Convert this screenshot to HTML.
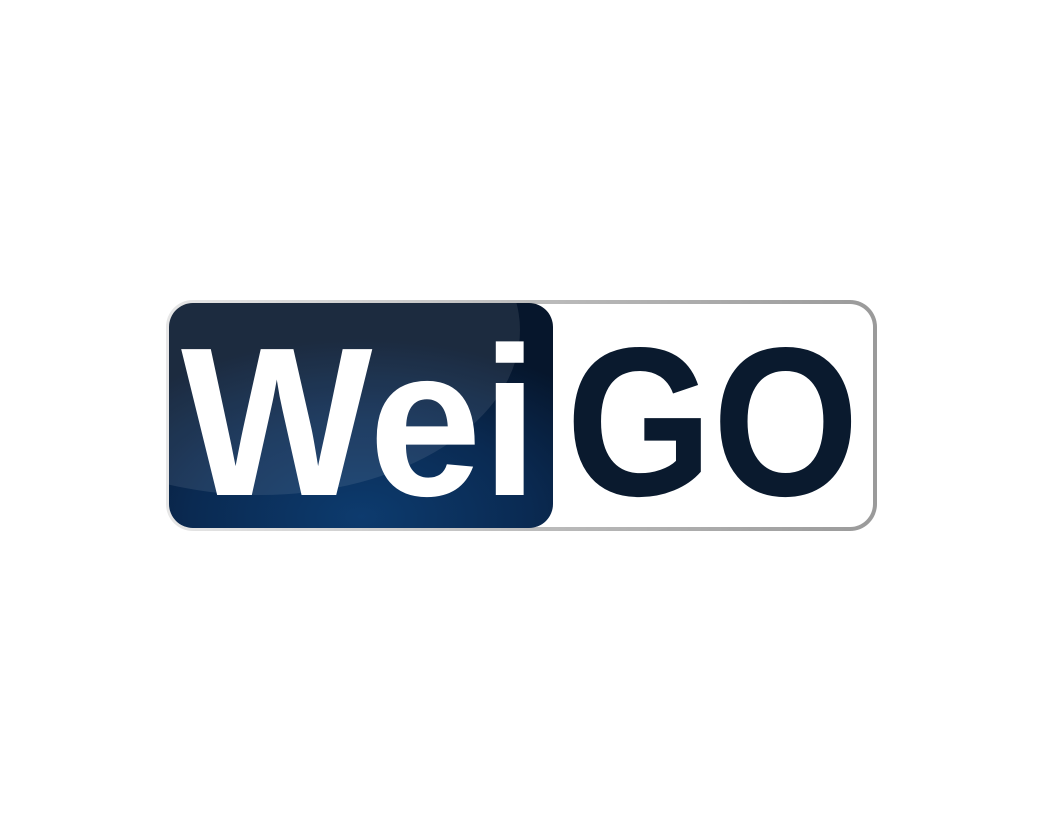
<!DOCTYPE html>
<html><head><meta charset="utf-8"><style>
html,body{margin:0;padding:0;background:#fff;}
svg{display:block;}
</style></head><body>
<svg width="1043" height="834" viewBox="0 0 1043 834">
<defs>
<linearGradient id="silver" x1="0" y1="0" x2="1" y2="0">
<stop offset="0" stop-color="#e6e6e6"/><stop offset="0.5" stop-color="#bdbdbd"/><stop offset="1" stop-color="#9a9a9a"/>
</linearGradient>
<radialGradient id="blue" cx="0.5" cy="0.95" r="0.8">
<stop offset="0" stop-color="#0d3b6e"/><stop offset="0.55" stop-color="#0a2a52"/><stop offset="1" stop-color="#06162c"/>
</radialGradient>
<clipPath id="darkclip"><rect x="169" y="303" width="384" height="225" rx="24"/></clipPath>
</defs>
<rect x="166" y="300" width="711" height="231" rx="27" fill="url(#silver)"/>
<rect x="171" y="304" width="702" height="223" rx="23" fill="#fff"/>
<rect x="169" y="303" width="384" height="225" rx="24" fill="url(#blue)"/>
<g clip-path="url(#darkclip)">
<ellipse cx="260" cy="330" rx="260" ry="165" fill="#ffffff" opacity="0.09"/>
</g>
<text x="181" y="495" font-family="Liberation Sans, sans-serif" font-weight="bold" font-size="212" fill="#ffffff" textLength="357" lengthAdjust="spacingAndGlyphs">Wei</text>
<text x="566" y="495" font-family="Liberation Sans, sans-serif" font-weight="bold" font-size="212" fill="#0a1a2e" textLength="293" lengthAdjust="spacingAndGlyphs">GO</text>
</svg>
</body></html>
